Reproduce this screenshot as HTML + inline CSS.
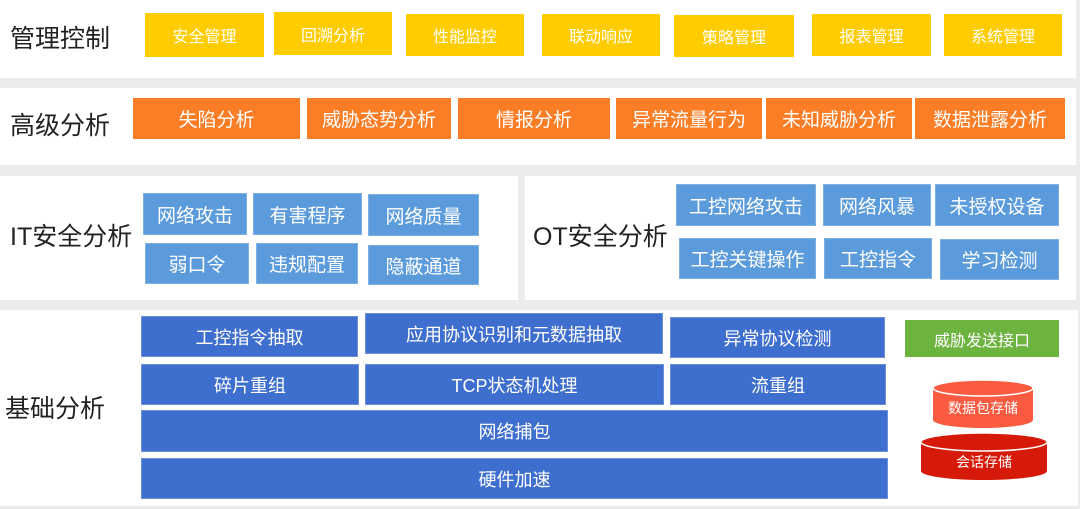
<!DOCTYPE html>
<html><head><meta charset="utf-8"><style>
body{margin:0;width:1080px;height:509px;background:#ececec;position:relative;overflow:hidden;font-family:"Liberation Sans","Noto Sans CJK SC",sans-serif}
.p{position:absolute;background:#fff}
.b{position:absolute;display:flex;align-items:center;justify-content:center;color:#fff;box-sizing:border-box}
.y{background:#ffcc00;font-size:16px}
.o{background:#fb7d26;font-size:19px}
.u{background:#5b9bdc;font-size:19px;border:1px solid #7fb0e4}
.d{background:#3f6fce;font-size:18px;border:1px solid #6b8fd8}
.l{position:absolute;font-size:25px;color:#222;line-height:1}
</style></head><body>
<div class="p" style="left:0;top:0;width:1076px;height:78px"></div>
<div class="p" style="left:0;top:88px;width:1076px;height:77px"></div>
<div class="p" style="left:0;top:176px;width:518px;height:124px"></div>
<div class="p" style="left:525px;top:176px;width:551px;height:124px"></div>
<div class="p" style="left:0;top:310px;width:1078px;height:196px"></div>

<div class="l" style="left:10px;top:27px">管理控制</div>
<div class="l" style="left:10px;top:114px">高级分析</div>
<div class="l" style="left:10px;top:225px">IT安全分析</div>
<div class="l" style="left:533px;top:225px">OT安全分析</div>
<div class="l" style="left:5px;top:397px">基础分析</div>

<div class="b y" style="left:145px;top:13px;width:119px;height:44px">安全管理</div>
<div class="b y" style="left:274px;top:12px;width:118px;height:43px">回溯分析</div>
<div class="b y" style="left:406px;top:14px;width:118px;height:42px">性能监控</div>
<div class="b y" style="left:542px;top:14px;width:118px;height:42px">联动响应</div>
<div class="b y" style="left:674px;top:15px;width:120px;height:42px">策略管理</div>
<div class="b y" style="left:812px;top:14px;width:119px;height:42px">报表管理</div>
<div class="b y" style="left:944px;top:14px;width:118px;height:42px">系统管理</div>

<div class="b o" style="left:133px;top:98px;width:167px;height:41px">失陷分析</div>
<div class="b o" style="left:307px;top:98px;width:144px;height:41px">威胁态势分析</div>
<div class="b o" style="left:458px;top:98px;width:152px;height:41px">情报分析</div>
<div class="b o" style="left:616px;top:98px;width:146px;height:41px">异常流量行为</div>
<div class="b o" style="left:766px;top:98px;width:146px;height:41px">未知威胁分析</div>
<div class="b o" style="left:915px;top:98px;width:150px;height:41px">数据泄露分析</div>

<div class="b u" style="left:143px;top:193px;width:104px;height:42px">网络攻击</div>
<div class="b u" style="left:253px;top:193px;width:109px;height:42px">有害程序</div>
<div class="b u" style="left:368px;top:194px;width:111px;height:42px">网络质量</div>
<div class="b u" style="left:145px;top:243px;width:104px;height:41px">弱口令</div>
<div class="b u" style="left:256px;top:243px;width:102px;height:41px">违规配置</div>
<div class="b u" style="left:368px;top:245px;width:111px;height:40px">隐蔽通道</div>

<div class="b u" style="left:676px;top:184px;width:140px;height:42px">工控网络攻击</div>
<div class="b u" style="left:823px;top:184px;width:108px;height:42px">网络风暴</div>
<div class="b u" style="left:935px;top:184px;width:124px;height:42px">未授权设备</div>
<div class="b u" style="left:679px;top:238px;width:137px;height:41px">工控关键操作</div>
<div class="b u" style="left:824px;top:238px;width:108px;height:41px">工控指令</div>
<div class="b u" style="left:940px;top:239px;width:119px;height:41px">学习检测</div>

<div class="b d" style="left:141px;top:316px;width:217px;height:41px">工控指令抽取</div>
<div class="b d" style="left:365px;top:313px;width:298px;height:41px">应用协议识别和元数据抽取</div>
<div class="b d" style="left:670px;top:317px;width:215px;height:41px">异常协议检测</div>
<div class="b d" style="left:141px;top:364px;width:218px;height:41px">碎片重组</div>
<div class="b d" style="left:365px;top:364px;width:299px;height:41px">TCP状态机处理</div>
<div class="b d" style="left:670px;top:364px;width:216px;height:41px">流重组</div>
<div class="b d" style="left:141px;top:410px;width:747px;height:42px">网络捕包</div>
<div class="b d" style="left:141px;top:458px;width:747px;height:41px">硬件加速</div>
<div class="b" style="left:905px;top:320px;width:154px;height:37px;background:#6db33f;font-size:16px">威胁发送接口</div>

<svg style="position:absolute;left:0;top:0" width="1080" height="509">
<path d="M933 388 V420 A50 8 0 0 0 1033 420 V388 Z" fill="#f95a40"/>
<ellipse cx="983" cy="388" rx="50" ry="8" fill="#f95a40" stroke="#fff" stroke-width="1.5"/>
<text x="983" y="413" fill="#fff" font-size="14" text-anchor="middle" font-family="Liberation Sans,Noto Sans CJK SC,sans-serif">数据包存储</text>
<path d="M921 442 V471 A63 9 0 0 0 1047 471 V442 Z" fill="#d51a0a"/>
<ellipse cx="984" cy="442" rx="63" ry="9" fill="#d51a0a" stroke="#fff" stroke-width="1.5"/>
<text x="984" y="467" fill="#fff" font-size="14" text-anchor="middle" font-family="Liberation Sans,Noto Sans CJK SC,sans-serif">会话存储</text>
</svg>
</body></html>
